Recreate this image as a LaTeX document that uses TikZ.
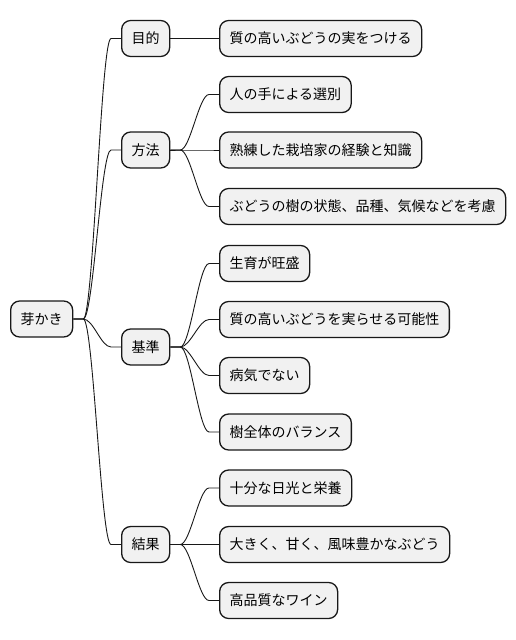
\documentclass[tikz,border=0pt]{standalone}
\usepackage{fontspec}
\newfontfamily\cjk{Noto Sans CJK JP}
\usetikzlibrary{calc}
\definecolor{boxfill}{HTML}{F1F1F1}
\definecolor{boxline}{HTML}{181818}
\begin{document}
\begin{tikzpicture}[x=1pt,y=-1pt,
  mnode/.style={draw=boxline,fill=boxfill,line width=1.3pt,rounded corners=9pt,
    minimum height=36pt,inner xsep=10pt,inner ysep=0pt,anchor=west,
    font=\cjk\fontsize{14pt}{16pt}\selectfont},
  link/.style={to path={(\tikztostart) -- ++(10pt,0) .. controls +(10pt,0) and +(-10pt,0) .. ($(\tikztotarget)+(-10pt,0)$) -- (\tikztotarget)}},
  conn/.style={draw=boxline,line width=0.9pt}]
\useasboundingbox (0,0) rectangle (516,640);
\node[mnode] (root) at (10,319) {芽かき};
\node[mnode] (mokuteki) at (121,38.5) {目的};
\node[mnode] (houhou) at (121,150) {方法};
\node[mnode] (kijun) at (121,347) {基準};
\node[mnode] (kekka) at (121,544.5) {結果};
\node[mnode] (m1) at (219,38.5) {質の高いぶどうの実をつける};
\node[mnode] (h1) at (219,94.5) {人の手による選別};
\node[mnode] (h2) at (219,150) {熟練した栽培家の経験と知識};
\node[mnode] (h3) at (219,206.5) {ぶどうの樹の状態、品種、気候などを考慮};
\node[mnode] (k1) at (219,263.5) {生育が旺盛};
\node[mnode] (k2) at (219,319.5) {質の高いぶどうを実らせる可能性};
\node[mnode] (k3) at (219,375.5) {病気でない};
\node[mnode] (k4) at (219,432) {樹全体のバランス};
\node[mnode] (r1) at (219,488) {十分な日光と栄養};
\node[mnode] (r2) at (219,544.5) {大きく、甘く、風味豊かなぶどう};
\node[mnode] (r3) at (219,600.5) {高品質なワイン};
\foreach \a/\b in {root/mokuteki,root/houhou,root/kijun,root/kekka,
  mokuteki/m1,houhou/h1,houhou/h2,houhou/h3,
  kijun/k1,kijun/k2,kijun/k3,kijun/k4,kekka/r1,kekka/r2,kekka/r3}
  \draw[conn] (\a.east) to[link] (\b.west);
\end{tikzpicture}
\end{document}
